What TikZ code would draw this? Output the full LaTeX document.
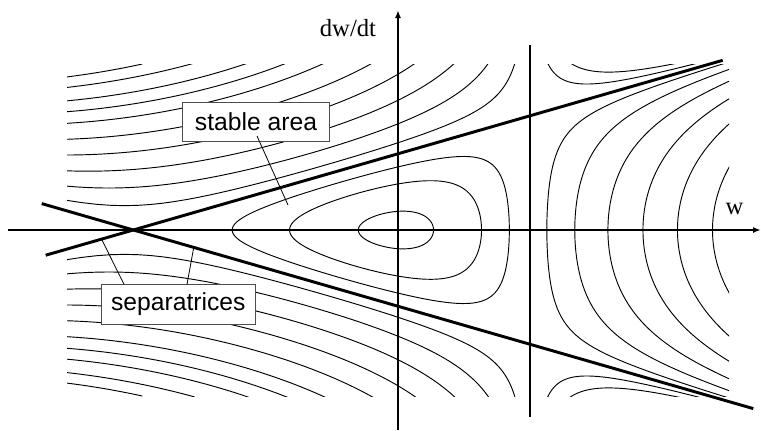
\documentclass[tikz,border=0pt]{standalone}
\usepackage{fontspec}
\setmainfont{Liberation Serif}
\newfontfamily\labelsans{Liberation Sans}
\usetikzlibrary{arrows.meta}
\begin{document}
\begin{tikzpicture}[x=0.75pt,y=-0.75pt,
  declare function={Fq(\x,\y)=(\x+1)*(\x+1)-2*(\y)/(\x-2);},
  flow/.style={line width=0.7pt},
  axisline/.style={line width=1.4pt,-{Latex[length=6pt,width=4.5pt]}},
  sepline/.style={line width=2.2pt},
  vline/.style={line width=1.4pt},
  labelbox/.style={draw=black!70,line width=0.6pt,fill=white,inner sep=0pt,
    font=\labelsans\fontsize{18.5}{22}\selectfont},
  axlabel/.style={inner sep=0pt,anchor=base,font=\fontsize{18.5}{22}\selectfont},
  leader/.style={line width=0.6pt}]
\useasboundingbox (0,0) rectangle (761,430);

% ---- level curves ----
\begin{scope}
\clip (67,64) rectangle (729,396);
\begin{scope}[shift={(199.125pt,-172.5pt)},x=99.165pt,y=28.56pt]
  % curves above / below the saddle wedge (left of the vertical line)
  \foreach \k in {0.62,1.88,3.79,6.35,9.5,13.3,16.45,19.7,24.1,27.85}{
    \pgfmathsetmacro\ta{ln(2*\k/19)}
    \draw[flow] plot[domain=\ta:1.2556,samples=120,variable=\t]
      ({2-exp(\t)},{sqrt((3-exp(\t))*(3-exp(\t))+2*\k*exp(-\t))});
    \draw[flow] plot[domain=\ta:1.2556,samples=120,variable=\t]
      ({2-exp(\t)},{-sqrt((3-exp(\t))*(3-exp(\t))+2*\k*exp(-\t))});
  }
  % U-shaped curves right of the vertical line, outside the separatrices
  \foreach \k in {0.63,1.27}{
    \pgfmathsetmacro\ta{ln(2*\k/19)}
    \draw[flow] plot[domain=\ta:0.4187,samples=120,variable=\t]
      ({2+exp(\t)},{sqrt((3+exp(\t))*(3+exp(\t))+2*\k*exp(-\t))});
    \draw[flow] plot[domain=\ta:0.4187,samples=120,variable=\t]
      ({2+exp(\t)},{-sqrt((3+exp(\t))*(3+exp(\t))+2*\k*exp(-\t))});
  }
  % curves right of the vertical line, between the separatrices
  \foreach \k in {0.625,1.89,3.8,6.35,9.45,13.25}{
    \pgfmathsetmacro\xz{2*cosh(ln(1+\k+sqrt((1+\k)*(1+\k)-1))/3)}
    \pgfmathsetmacro\T{sqrt(3.52-\xz)}
    \draw[flow] plot[domain=-\T:0,samples=80,variable=\t]
      ({\xz+\t*\t},{-sqrt(max(0,Fq(\xz+\t*\t,\k)))})
      -- plot[domain=0:\T,samples=80,variable=\t]
      ({\xz+\t*\t},{sqrt(max(0,Fq(\xz+\t*\t,\k)))});
  }
  % closed orbits inside the stable area
  \foreach \k in {-0.63,-1.27,-1.88}{
    \pgfmathsetmacro\th{acos(1+\k)/3}
    \pgfmathsetmacro\xa{2*cos(\th+240)}
    \pgfmathsetmacro\xb{2*cos(\th)}
    \draw[flow] plot[domain=0:180,samples=90,variable=\t]
      ({\xa+(\xb-\xa)*(1-cos(\t))/2},{sqrt(max(0,Fq(\xa+(\xb-\xa)*(1-cos(\t))/2,\k)))})
      -- plot[domain=180:360,samples=90,variable=\t]
      ({\xa+(\xb-\xa)*(1-cos(\t))/2},{-sqrt(max(0,Fq(\xa+(\xb-\xa)*(1-cos(\t))/2,\k)))})
      -- cycle;
  }
\end{scope}
\end{scope}

% ---- axes, separatrices, vertical line ----
\draw[axisline] (8,230) -- (761,230);
\draw[axisline] (398,430) -- (398,10);
\draw[sepline] (45.7,255.2) -- (722.7,60.3);
\draw[sepline] (41.7,203.6) -- (753.3,408.6);
\draw[vline] (530,45) -- (530,417.3);

% ---- labels ----
\node[axlabel] (ylab) at (348,36) {dw/dt};
\node[axlabel] (xlab) at (734.5,214) {w};

\node[labelbox,minimum width=110pt,minimum height=29.5pt] (stable) at (256,122) {stable area};
\node[labelbox,minimum width=116pt,minimum height=30pt] (sep) at (178.3,304.3) {separatrices};

\coordinate (sa0) at (257,136);
\coordinate (sa1) at (288,205);
\draw[leader] (sa0) -- (sa1);
\coordinate (sp0) at (124,284.3);
\coordinate (sp1) at (101,238);
\coordinate (sq0) at (187,284.3);
\coordinate (sq1) at (194,246);
\draw[leader] (sp0) -- (sp1);
\draw[leader] (sq0) -- (sq1);
\end{tikzpicture}
\end{document}
